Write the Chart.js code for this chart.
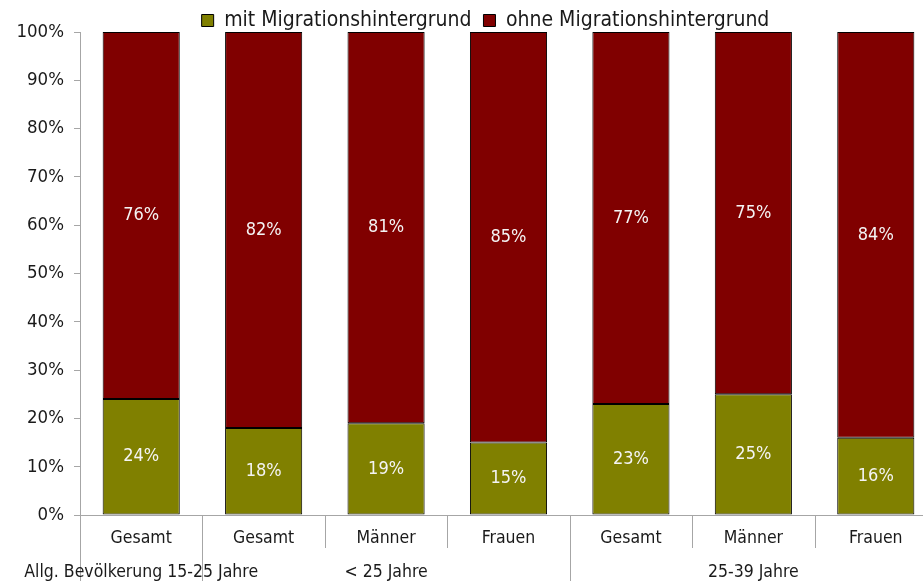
<!DOCTYPE html>
<html>
<head>
<meta charset="utf-8">
<script src="https://cdn.jsdelivr.net/npm/chart.js@4"></script>
<style>
  html, body { margin: 0; padding: 0; background: #fff; overflow: hidden; }
  #wrap { width: 923px; height: 581px; overflow: hidden; }
</style>
</head>
<body>
<div id="wrap"><canvas id="myChart" width="940" height="581"></canvas></div>
<script>
// categories (first level) and groups (second level)
var categories = ["Gesamt", "Gesamt", "Männer", "Frauen", "Gesamt", "Männer", "Frauen"];
var groups = ["Allg. Bevölkerung 15-25 Jahre", "< 25 Jahre", "25-39 Jahre"];
var groupSizes = [1, 3, 3];

// series values (percent)
var mitData = [24, 18, 19, 15, 23, 25, 16];
var ohneData = [76, 82, 81, 85, 77, 75, 84];

var yTicks = [0, 10, 20, 30, 40, 50, 60, 70, 80, 90, 100];

var FONT = "'DejaVu Sans Condensed', 'Open Sans', sans-serif";

// white value labels inside the bars
var valueLabels = {
  id: "valueLabels",
  afterDatasetsDraw: function (chart) {
    var ctx = chart.ctx;
    ctx.save();
    ctx.fillStyle = "#f4f4f4";
    ctx.font = "18px " + FONT;
    ctx.textAlign = "center";
    ctx.textBaseline = "middle";
    chart.data.datasets.forEach(function (ds, i) {
      var meta = chart.getDatasetMeta(i);
      meta.data.forEach(function (bar, j) {
        var y = (bar.y + bar.base) / 2;
        ctx.fillText(ds.data[j] + "%", bar.x, y);
      });
    });
    ctx.restore();
  }
};

// keep the legend short and nudge it to where the original one sits
var legendShift = {
  id: "legendShift",
  beforeLayout: function (chart) {
    var lg = chart.legend;
    if (!lg || lg._patched) return;
    var fit = lg.fit;
    lg.fit = function () {
      fit.call(this);
      this.height = 32;
    };
    lg._patched = true;
  },
  afterLayout: function (chart) {
    var lg = chart.legend;
    if (!lg) return;
    lg.left += 17;
    lg.right += 17;
    lg.top -= 2;
    lg.bottom -= 2;
  }
};

// two level category axis drawn under the plot
var multiAxis = {
  id: "multiAxis",
  afterDraw: function (chart) {
    var ctx = chart.ctx;
    var x = chart.scales.x;
    var area = chart.chartArea;
    var n = categories.length;
    var step = (area.right - area.left) / n;
    ctx.save();
    ctx.strokeStyle = "#a6a6a6";
    ctx.lineWidth = 1;
    var groupEdges = [0];
    var acc = 0;
    groupSizes.forEach(function (s) { acc += s; groupEdges.push(acc); });
    for (var k = 0; k < n; k++) {
      var bx = Math.round(area.left + k * step) + 0.5;
      var full = groupEdges.indexOf(k) >= 0;
      ctx.beginPath();
      ctx.moveTo(bx, area.bottom);
      ctx.lineTo(bx, full ? chart.height : area.bottom + 33);
      ctx.stroke();
    }
    ctx.fillStyle = "#1a1a1a";
    ctx.font = "17.5px " + FONT;
    ctx.textAlign = "center";
    ctx.textBaseline = "middle";
    categories.forEach(function (c, j) {
      ctx.fillText(c, x.getPixelForValue(j), area.bottom + 23);
    });
    groups.forEach(function (g, i) {
      var a = area.left + groupEdges[i] * step;
      var b = area.left + groupEdges[i + 1] * step;
      ctx.fillText(g, (a + b) / 2, area.bottom + 57);
    });
    ctx.restore();
  }
};

var config = {
  type: "bar",
  data: {
    labels: categories,
    datasets: [
      {
        label: "mit Migrationshintergrund",
        data: mitData,
        backgroundColor: "#808000",
        borderColor: "#000000",
        borderWidth: 1,
        borderSkipped: false,
        barPercentage: 0.63,
        categoryPercentage: 1.0
      },
      {
        label: "ohne Migrationshintergrund",
        data: ohneData,
        backgroundColor: "#800000",
        borderColor: "#000000",
        borderWidth: 1,
        borderSkipped: false,
        barPercentage: 0.63,
        categoryPercentage: 1.0
      }
    ]
  },
  options: {
    responsive: false,
    animation: false,
    layout: { padding: { top: 0, right: 3, bottom: 66, left: 0 } },
    plugins: {
      legend: {
        position: "top",
        labels: {
          font: { family: FONT, size: 21 },
          color: "#1a1a1a",
          boxWidth: 12,
          boxHeight: 12,
          padding: 12
        }
      },
      tooltip: { enabled: false }
    },
    scales: {
      x: {
        stacked: true,
        grid: { display: false },
        border: { display: true, color: "#a6a6a6" },
        ticks: { display: false },
        afterFit: function (s) { s.height = 0; }
      },
      y: {
        stacked: true,
        min: 0,
        max: 100,
        afterBuildTicks: function (s) {
          s.ticks = yTicks.map(function (v) { return { value: v }; });
        },
        afterFit: function (s) { s.width = 80; },
        grid: { drawOnChartArea: false, color: "#a6a6a6", tickLength: 6 },
        border: { display: true, color: "#a6a6a6" },
        ticks: {
          color: "#1a1a1a",
          font: { family: FONT, size: 18.5 },
          padding: 10,
          callback: function (v) { return v + "%"; }
        }
      }
    }
  },
  plugins: [valueLabels, legendShift, multiAxis]
};

var chart = new Chart("myChart", config);
</script>
</body>
</html>
